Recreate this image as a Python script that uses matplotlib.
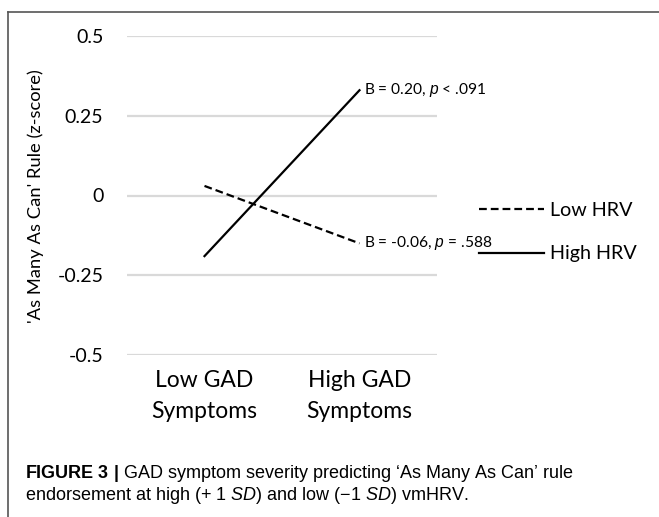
import matplotlib
matplotlib.use("Agg")
import matplotlib.pyplot as plt
from matplotlib.lines import Line2D

plt.rcParams['mathtext.fontset'] = 'custom'
plt.rcParams['mathtext.rm'] = 'Liberation Sans'
plt.rcParams['mathtext.it'] = 'Liberation Sans:italic'
plt.rcParams['mathtext.bf'] = 'Liberation Sans:bold'

categories = ["Low GAD\nSymptoms", "High GAD\nSymptoms"]
low_hrv = [0.03, -0.15]
high_hrv = [-0.19, 0.33]
yticks = [-0.5, -0.25, 0, 0.25, 0.5]
yticklabels = ["-0.5", "-0.25", "0", "0.25", "0.5"]
series_labels = ["Low HRV", "High HRV"]
annot_high = "B = 0.20, $\\mathit{p}$ < .091"
annot_low = "B = -0.06, $\\mathit{p}$ = .588"
ylabel = "'As Many As Can' Rule (z-score)"
caption1 = "$\\mathbf{FIGURE\\ 3\\ |}$ GAD symptom severity predicting \u2018As Many As Can\u2019 rule"
caption2 = "endorsement at high (+ 1 $\\mathit{SD}$) and low (\u22121 $\\mathit{SD}$) vmHRV."

FONT = "Lato"
W, H = 659, 517
fig = plt.figure(figsize=(W / 100, H / 100), dpi=100)

# border lines (top and left)
fig.add_artist(Line2D([8 / W, 1.0], [1 - 12 / H, 1 - 12 / H], color="#555555", lw=1.2))
fig.add_artist(Line2D([8 / W, 8 / W], [0, 1 - 12 / H], color="#555555", lw=1.2))

ax = fig.add_axes([127 / W, 1 - 355 / H, 310 / W, 319 / H])
x = [0.5, 1.5]
ax.set_xlim(0, 2)
ax.set_ylim(-0.5, 0.5)
for yv in yticks:
    ax.axhline(yv, color="#d9d9d9", lw=1.6, zorder=0)

l1, = ax.plot(x, low_hrv, color="black", lw=1.6, linestyle=(0, (3.5, 1.8)), label=series_labels[0])
l2, = ax.plot(x, high_hrv, color="black", lw=1.6, label=series_labels[1])

ax.text(x[1] + 0.03, high_hrv[1], annot_high, fontsize=11.2, family=FONT, va="center", ha="left")
ax.text(x[1] + 0.03, low_hrv[1], annot_low, fontsize=11.2, family=FONT, va="center", ha="left")

ax.set_yticks(yticks)
ax.set_yticklabels(yticklabels, family=FONT, fontsize=14)
ax.set_xticks(x)
ax.set_xticklabels(categories, family=FONT, fontsize=16.5, linespacing=1.55)
ax.tick_params(axis="y", length=0, pad=17)
ax.tick_params(axis="x", length=0, pad=11)
for s in ax.spines.values():
    s.set_visible(False)

fig.text(36 / W, 1 - 196 / H, ylabel, rotation=90, ha="center", va="center", family=FONT, fontsize=13.2)

leg = ax.legend(handles=[l1, l2], loc="upper left", bbox_to_anchor=(469 / W, 1 - 192 / H),
                bbox_transform=fig.transFigure, frameon=False, prop={"family": FONT, "size": 14.2},
                handlelength=3.3, handletextpad=0.3, labelspacing=1.35, borderpad=0)

fig.text(25 / W, 1 - 474 / H, caption1, family="Liberation Sans", fontsize=13, va="center", ha="left")
fig.text(25 / W, 1 - 495 / H, caption2, family="Liberation Sans", fontsize=13, va="center", ha="left")

fig.savefig("out.png", dpi=100)
